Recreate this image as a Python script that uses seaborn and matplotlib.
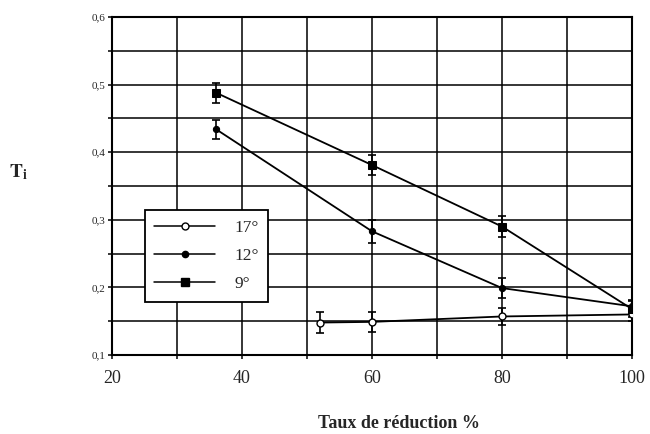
import matplotlib
matplotlib.use("Agg")
import matplotlib.pyplot as plt
import seaborn as sns
import pandas as pd
import numpy as np
from matplotlib.lines import Line2D

# ---- data ----
labels = ["17°", "12°", "9°"]
x_17 = [52, 60, 80, 100]
y_17 = [0.148, 0.149, 0.157, 0.160]
e_17 = [0.016, 0.015, 0.012, 0.010]
x_12 = [36, 60, 80, 100]
y_12 = [0.434, 0.283, 0.199, 0.172]
e_12 = [0.014, 0.017, 0.015, 0.010]
x_9 = [36, 60, 80, 100]
y_9 = [0.488, 0.381, 0.290, 0.168]
e_9 = [0.015, 0.015, 0.015, 0.012]

x_ticks = [20, 40, 60, 80, 100]
x_ticklabels = ["20", "40", "60", "80", "100"]
y_ticks = [0.1, 0.2, 0.3, 0.4, 0.5, 0.6]
y_ticklabels = ["0,1", "0,2", "0,3", "0,4", "0,5", "0,6"]
x_label = "Taux de réduction %"
y_label = r"$\mathbf{T}_{\mathbf{i}}$"

sns.set_theme(style="white")
plt.rcParams["font.family"] = ["Liberation Serif", "DejaVu Serif"]
plt.rcParams["mathtext.fontset"] = "stix"

fig = plt.figure(figsize=(6.5, 4.34), dpi=100)
L, R, T, B = 112, 632, 17, 355
ax = fig.add_axes([L / 650, 1 - B / 434, (R - L) / 650, (B - T) / 434])

series = [
    (labels[0], x_17, y_17, e_17, dict(marker="o", markersize=5, markerfacecolor="white", markeredgecolor="black", markeredgewidth=1.0)),
    (labels[1], x_12, y_12, e_12, dict(marker="o", markersize=4.5, markerfacecolor="black", markeredgecolor="black")),
    (labels[2], x_9, y_9, e_9, dict(marker="s", markersize=5.5, markerfacecolor="black", markeredgecolor="black")),
]

handles = []
for name, xs, ys, es, mk in series:
    df = pd.DataFrame({"x": xs, "y": ys})
    sns.lineplot(data=df, x="x", y="y", ax=ax, color="black", linewidth=1.3,
                 zorder=4, **mk)
    ax.errorbar(xs, ys, yerr=es, fmt="none", ecolor="black", elinewidth=1.2,
                capsize=3, capthick=1.2, zorder=3)
    handles.append(Line2D([], [], color="black", linewidth=1.1, **mk))

ax.set_xlim(20, 100)
ax.set_ylim(0.1, 0.6)
ax.set_xticks(x_ticks)
ax.set_xticklabels(x_ticklabels)
ax.set_xticks(np.arange(20, 101, 10), minor=True)
ax.set_yticks(y_ticks)
ax.set_yticklabels(y_ticklabels)
ax.set_yticks(np.arange(0.1, 0.601, 0.05), minor=True)
ax.grid(True, which="both", color="black", linewidth=1.1)
ax.set_axisbelow(True)
for s in ax.spines.values():
    s.set_color("black")
    s.set_linewidth(1.5)

ax.tick_params(axis="x", which="both", direction="out", length=3, width=1.1,
               color="black", labelsize=13, pad=8, bottom=True)
ax.tick_params(axis="y", which="both", direction="out", length=3, width=1.1,
               color="black", labelsize=8, pad=2, left=True)
ax.set_xlabel("")
ax.set_ylabel("")

leg = ax.legend(handles, labels, loc="lower left",
                bbox_to_anchor=(0.063, 0.157),
                borderaxespad=0, handlelength=3.5, labelspacing=0.7,
                fontsize=12.5, frameon=True, fancybox=False, framealpha=1,
                borderpad=0.55, handletextpad=1.1)
leg.get_frame().set_edgecolor("black")
leg.get_frame().set_linewidth(1.3)

fig.text(18 / 650, 1 - 172 / 434, y_label, fontsize=14, ha="center", va="center")
fig.text(399 / 650, 1 - 424 / 434, x_label, fontsize=13, fontweight="bold",
         ha="center", va="center")

fig.savefig("out.png", dpi=100)
